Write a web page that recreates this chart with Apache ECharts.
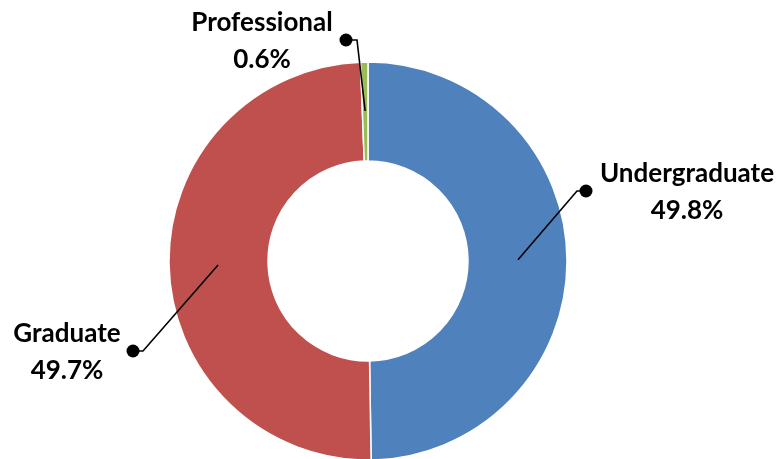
<!DOCTYPE html>
<html>
<head>
<meta charset="utf-8">
<script src="https://cdn.jsdelivr.net/npm/echarts@6/dist/echarts.min.js"></script>
<style>
html,body{margin:0;padding:0;background:#fff;}
#main{width:783px;height:459px;}
</style>
</head>
<body>
<div id="main"></div>
<script>
// data
var categories = ['Undergraduate', 'Graduate', 'Professional'];
var values = [49.8, 49.7, 0.6];
var colors = ['#4F81BD', '#C0504D', '#9BBB59'];

// layout (pixels)
var cx = 368, cy = 261, rIn = 100, rOut = 199, rLine = 150;
var labelPos = [[687, 192], [67, 352], [262, 41]];   // label centre
var dotPos = [[586, 191], [133, 351], [346, 40]];    // dot at line end
var elbowPos = [[577, 191], [143, 351], [357, 40]];  // elbow before dot

var total = 0;
for (var i = 0; i < values.length; i++) total += values[i];

// start point of each leader line, mid-angle of the slice on radius rLine
function lineStart(idx) {
	var cum = 0;
	for (var i = 0; i < idx; i++) cum += values[i];
	var frac = (cum + values[idx] / 2) / total;
	var a = (90 - 360 * frac) * Math.PI / 180;
	return [cx + rLine * Math.cos(a), cy - rLine * Math.sin(a)];
}

var pieData = [];
for (var i = 0; i < categories.length; i++) {
	pieData.push({name: categories[i], value: values[i], itemStyle: {color: colors[i]}});
}

// leader lines + dots drawn on top of the ring
var marks = [];
for (var i = 0; i < dotPos.length; i++) {
	marks.push({
		type: 'polyline',
		shape: {points: [lineStart(i), elbowPos[i], dotPos[i]]},
		style: {stroke: '#000', lineWidth: 1.6, fill: null},
		z: 100
	});
	marks.push({
		type: 'circle',
		shape: {cx: dotPos[i][0], cy: dotPos[i][1], r: 6.5},
		style: {fill: '#000'},
		z: 101
	});
}

var chart = echarts.init(document.getElementById('main'));
chart.setOption({
	animation: false,
	backgroundColor: '#fff',
	graphic: marks,
	series: [{
		type: 'pie',
		center: [cx, cy],
		radius: [rIn, rOut],
		startAngle: 90,
		clockwise: true,
		silent: true,
		itemStyle: {borderColor: '#fff', borderWidth: 1.5},
		label: {
			show: true,
			position: 'outside',
			formatter: function (p) {
				return p.name + '\n' + p.value.toFixed(1) + '%';
			},
			fontFamily: 'Lato',
			fontWeight: 'bold',
			fontSize: 26,
			lineHeight: 37,
			color: '#000',
			align: 'center',
			overflow: 'none',
			width: 220
		},
		labelLine: {show: false},
		labelLayout: function (params) {
			var i = params.dataIndex;
			return {
				x: labelPos[i][0],
				y: labelPos[i][1],
				align: 'center',
				verticalAlign: 'middle'
			};
		},
		data: pieData
	}]
});
</script>
</body>
</html>
